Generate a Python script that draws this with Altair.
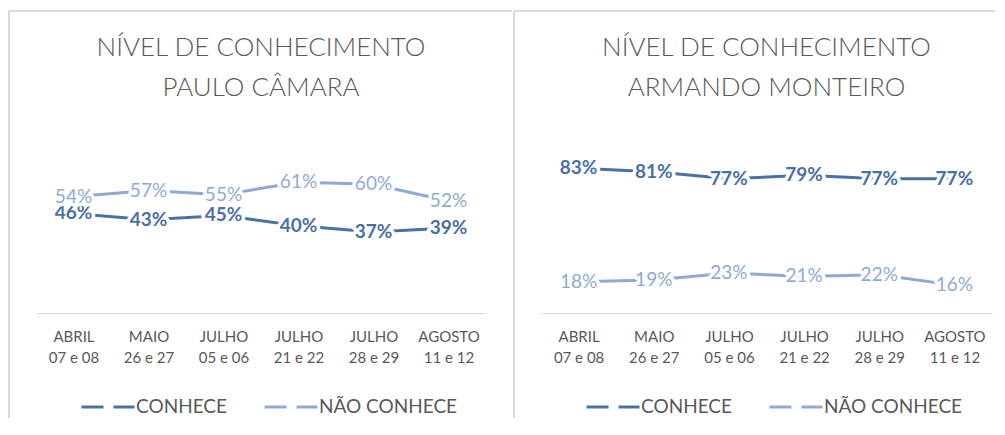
import altair as alt
import pandas as pd

# ---- data ----
months = ["ABRIL", "MAIO", "JULHO", "JULHO", "JULHO", "AGOSTO"]
days = ["07 e 08", "26 e 27", "05 e 06", "21 e 22", "28 e 29", "11 e 12"]
series_names = ["CONHECE", "NÃO CONHECE"]
paulo_conhece = [46, 43, 45, 40, 37, 39]
paulo_nao_conhece = [54, 57, 55, 61, 60, 52]
armando_conhece = [83, 81, 77, 79, 77, 77]
armando_nao_conhece = [18, 19, 23, 21, 22, 16]
title_paulo = ["NÍVEL DE CONHECIMENTO", "PAULO CÂMARA"]
title_armando = ["NÍVEL DE CONHECIMENTO", "ARMANDO MONTEIRO"]

DARK = "#4A70A8"
LIGHT = "#8FA9D6"
GRAY = "#595959"
BORDER = "#D9D9D9"
FONT = "Lato"

cats = [f"{m}\n{d}" for m, d in zip(months, days)]


def frame(conhece, nao):
    rows = []
    for cat, v in zip(cats, conhece):
        rows.append({"periodo": cat, "serie": series_names[0], "valor": v})
    for cat, v in zip(cats, nao):
        rows.append({"periodo": cat, "serie": series_names[1], "valor": v})
    return pd.DataFrame(rows)


def panel(df, title, domain, W, H, top_right):
    base = alt.Chart(df).transform_calculate(rotulo="datum.valor + '%'")
    x = alt.X(
        "periodo:N",
        sort=cats,
        scale=alt.Scale(type="point", padding=0.5),
        axis=alt.Axis(title=None, labelExpr="split(datum.label, '\\n')", labelAngle=0),
    )
    y = alt.Y("valor:Q", scale=alt.Scale(domain=domain, nice=False, zero=False), axis=None)

    line = base.mark_line(strokeWidth=3).encode(
        x=x,
        y=y,
        color=alt.Color(
            "serie:N",
            scale=alt.Scale(domain=series_names, range=[DARK, LIGHT]),
            legend=alt.Legend(
                title=None,
                orient="none",
                legendX=44,
                legendY=249,
                direction="horizontal",
                symbolType="stroke",
                symbolSize=2809,
                symbolStrokeWidth=3,
                symbolDash=[22, 10],
                labelFont=FONT,
                labelFontSize=19,
                labelColor=GRAY,
                columnPadding=31,
                labelOffset=0,
                padding=0,
                labelLimit=400,
            ),
        ),
    )

    layers = [line]
    for serie, color, weight in [(series_names[0], DARK, "bold"), (series_names[1], LIGHT, "normal")]:
        t = base.transform_filter(alt.datum.serie == serie)
        halo = t.mark_text(
            font=FONT, fontSize=19, fontWeight=weight, fill="white",
            stroke="white", strokeWidth=7, strokeJoin="round",
        ).encode(x=x, y=y, text="rotulo:N")
        txt = t.mark_text(font=FONT, fontSize=19, fontWeight=weight, color=color).encode(
            x=x, y=y, text="rotulo:N"
        )
        layers += [halo, txt]

    one = alt.Data(values=[{"a": 1}])
    rule_left = alt.Chart(one).mark_rule(color=BORDER, strokeWidth=2).encode(
        x=alt.value(-27), y=alt.value(-119), y2=alt.value(288)
    )
    rule_top = alt.Chart(one).mark_rule(color=BORDER, strokeWidth=2).encode(
        x=alt.value(-27), x2=alt.value(top_right), y=alt.value(-119)
    )
    layers += [rule_left, rule_top]

    return alt.layer(*layers).properties(
        width=W,
        height=H,
        title=alt.TitleParams(
            text=title, font=FONT, fontSize=26, fontWeight=300, color=GRAY,
            lineHeight=40, anchor="middle", frame="group", offset=-91,
        ),
    )


W1, W2, H = 450, 451, 183
left = panel(frame(paulo_conhece, paulo_nao_conhece), title_paulo, [-1.9, 86.1], W1, H, W1 + 26)
right = panel(frame(armando_conhece, armando_nao_conhece), title_armando, [0, 105], W2, H, W2 + 3)

chart = (
    alt.hconcat(left, right, spacing=0)
    .resolve_scale(x="independent", y="independent", color="independent")
    .resolve_legend(color="independent")
    .properties(padding={"left": 0, "top": 2, "right": 0, "bottom": 0}, background="white")
    .configure_view(stroke=None)
    .configure_axis(
        domainColor=BORDER, domainWidth=1, ticks=False, grid=False,
        labelFont=FONT, labelFontSize=15, labelColor=GRAY,
        labelPadding=16, labelLineHeight=21,
    )
)

chart.save("out.html", embed_options={"renderer": "svg", "actions": False})
